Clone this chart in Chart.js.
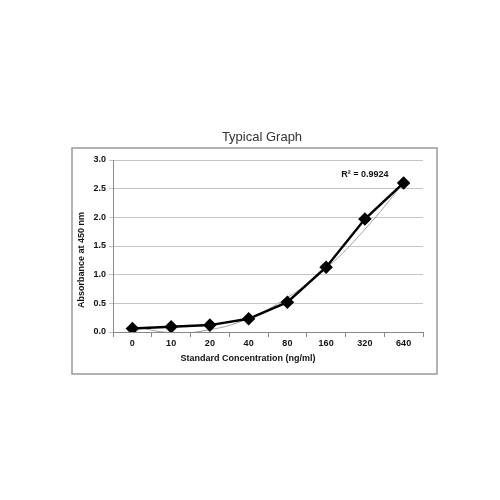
<!DOCTYPE html>
<html>
<head>
<meta charset="utf-8">
<script src="https://cdn.jsdelivr.net/npm/chart.js@4/dist/chart.umd.min.js"></script>
<style>
  html, body { margin: 0; padding: 0; background: #fff; }
  #wrap { width: 500px; height: 500px; }
</style>
</head>
<body>
<div id="wrap"><canvas id="stdChart" width="500" height="500"></canvas></div>
<script>
// 标准曲线数据
const concentrations = ['0', '10', '20', '40', '80', '160', '320', '640'];
const absorbance = [0.06, 0.09, 0.12, 0.23, 0.52, 1.13, 1.97, 2.60];
// 趋势线（多项式拟合，读自图上）
const trendValues = [0.10, -0.01, 0.04, 0.24, 0.60, 1.11, 1.79, 2.60];
const yTicks = [0, 0.5, 1.0, 1.5, 2.0, 2.5, 3.0];
const chartTitle = 'Typical Graph';
const xTitle = 'Standard Concentration (ng/ml)';
const yTitle = 'Absorbance at 450 nm';
const rSquaredText = 'R² = 0.9924';

const FONT = '"Liberation Sans", Arial, sans-serif';
const tickFont = { family: FONT, size: 9, weight: 'bold' };

// 外框、标题和 R² 文字（Excel 风格，标题按整个图居中）
const decorPlugin = {
    id: 'decor',
    beforeDraw(chart) {
        const ctx = chart.ctx;
        ctx.save();
        ctx.strokeStyle = '#9a9a9a';
        ctx.lineWidth = 1.5;
        ctx.strokeRect(72, 148, 365, 226);
        ctx.restore();
    },
    afterDraw(chart) {
        const ctx = chart.ctx;
        const x = chart.scales.x;
        const y = chart.scales.y;
        const area = chart.chartArea;
        ctx.save();
        ctx.textAlign = 'center';
        ctx.textBaseline = 'middle';

        ctx.fillStyle = '#333';
        ctx.font = '13px ' + FONT;
        ctx.fillText(chartTitle, (area.left + area.right) / 2 - 6, 137);

        ctx.fillStyle = '#111';
        ctx.font = 'bold 9px ' + FONT;
        ctx.fillText(xTitle, 248, area.bottom + 27);
        ctx.fillText(rSquaredText, x.getPixelForValue(6), y.getPixelForValue(2.74));

        ctx.translate(82, (area.top + area.bottom) / 2 + 14);
        ctx.rotate(-Math.PI / 2);
        ctx.fillText(yTitle, 0, 0);
        ctx.restore();
    }
};

const ctx = document.getElementById('stdChart').getContext('2d');
const stdChart = new Chart(ctx, {
    type: 'line',
    data: {
        labels: concentrations,
        datasets: [{
            label: 'Absorbance',
            data: absorbance,
            borderColor: '#000',
            backgroundColor: '#000',
            borderWidth: 2.5,
            pointStyle: 'rectRot',
            pointRadius: 5,
            pointBackgroundColor: '#000',
            pointBorderColor: '#000',
            tension: 0,
            order: 0
        }, {
            label: 'Trend',
            data: trendValues,
            borderColor: '#a0a0a0',
            borderWidth: 1,
            pointRadius: 0,
            tension: 0.45,
            order: 1
        }]
    },
    options: {
        responsive: false,
        animation: false,
        layout: { padding: { left: 74, right: 77, top: 160, bottom: 132 } },
        plugins: {
            legend: { display: false },
            tooltip: { enabled: false },
            title: { display: false }
        },
        scales: {
            x: {
                offset: true,
                afterFit(scale) { scale.height = 36; },
                grid: {
                    offset: true,
                    drawOnChartArea: false,
                    drawTicks: true,
                    tickLength: 5,
                    color: '#888'
                },
                border: { color: '#888', width: 1 },
                ticks: { color: '#111', font: tickFont, padding: 1, maxRotation: 0 }
            },
            y: {
                min: 0,
                max: 3.0,
                afterFit(scale) { scale.width = 39; },
                afterBuildTicks(scale) { scale.ticks = yTicks.map(v => ({ value: v })); },
                grid: { color: '#c4c4c4', tickLength: 4 },
                border: { color: '#888', width: 1 },
                ticks: {
                    color: '#111',
                    font: tickFont,
                    padding: 3,
                    callback: function(value) { return value.toFixed(1); }
                }
            }
        }
    },
    plugins: [decorPlugin]
});
</script>
</body>
</html>
